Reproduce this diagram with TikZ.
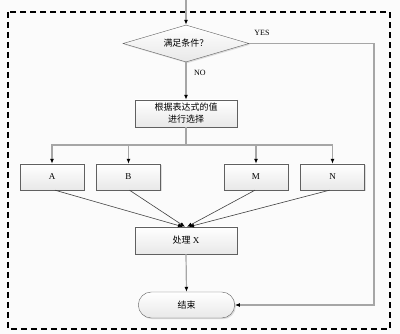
\documentclass[tikz,border=0pt]{standalone}
\usepackage{fontspec}
\setmainfont{Liberation Serif}
\newfontfamily\cjk{Noto Sans CJK SC}
\usetikzlibrary{shapes.geometric,shapes.misc,arrows.meta,shadows}

\begin{document}
\begin{tikzpicture}[x=1pt, y=-1pt,
  box/.style={draw=gray!75!black, top color=white, bottom color=gray!18, font=\fontsize{9}{12}\selectfont,
    drop shadow={opacity=0.25, shadow xshift=1.2pt, shadow yshift=-1.2pt}},
  proc/.style={box, rectangle, minimum width=102pt, minimum height=27pt, align=center, inner sep=1pt},
  choice/.style={proc, minimum width=64pt, minimum height=26pt},
  test/.style={box, diamond, minimum width=126pt, minimum height=37pt, aspect=3, inner sep=0pt},
  term/.style={box, rounded rectangle, minimum width=103pt, minimum height=26pt},
  link/.style={draw=gray!70, line width=1.2pt},
  flow/.style={link, -{Latex[black, length=5pt, width=4pt]}},
  merge/.style={draw=black!75, line width=0.6pt, -{Latex[black, length=5pt, width=4pt]}},
  lab/.style={font=\fontsize{8}{10}\selectfont}
]
  \fill[gray!3] (0,0) rectangle (400,334);
  \useasboundingbox (0,0) rectangle (400,334);
  \draw[line width=1.6pt, dash pattern=on 6pt off 4pt] (8,12) rectangle (390,329);

  \coordinate (entry) at (186,0);
  \node[test] (cond) at (186,43.5) {\cjk 满足条件？};
  \node[proc] (select) at (186,113.5) {\cjk 根据表达式的值\\\cjk 进行选择};
  \coordinate (fork) at (186,145);
  \node[choice] (a) at (52,177) {A};
  \node[choice] (b) at (128.5,177) {B};
  \node[choice] (m) at (256,177) {M};
  \node[choice] (n) at (332.5,177) {N};
  \node[proc] (work) at (186,240.5) {\cjk 处理 \rmfamily X};
  \node[term] (finish) at (186.5,305) {\cjk 结束};
  \coordinate (corner) at (374,305);

  \node[lab] (yes) at (262,33) {YES};
  \node[lab] (no) at (200,73) {NO};

  \draw[flow] (entry) -- (cond.north);
  \draw[flow] (cond.south) -- (select.north);
  \draw[link] (select.south) -- (fork);
  \draw[flow] (fork) -| (a.north);
  \draw[flow] (fork) -| (b.north);
  \draw[flow] (fork) -| (m.north);
  \draw[flow] (fork) -| (n.north);
  \draw[merge] ([xshift=3pt]a.south) -- ([xshift=-3pt]work.north);
  \draw[merge] ([xshift=1pt]b.south) -- ([xshift=-1pt]work.north);
  \draw[merge] ([xshift=-1pt]m.south) -- ([xshift=1pt]work.north);
  \draw[merge] ([xshift=-3pt]n.south) -- ([xshift=3pt]work.north);
  \draw[flow] (work.south) -- (finish.north);
  \draw[flow] (cond.east) -| (corner) -- (finish.east);
\end{tikzpicture}
\end{document}
